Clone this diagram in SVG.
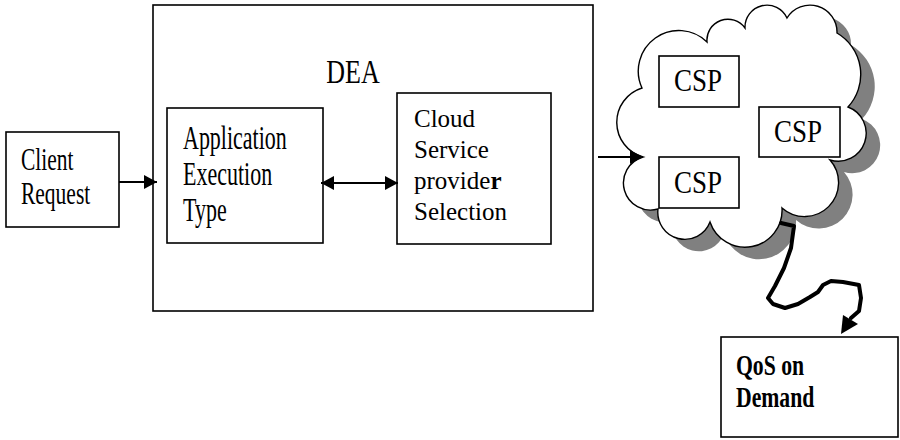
<svg xmlns="http://www.w3.org/2000/svg" width="900" height="440" viewBox="0 0 900 440">
<style>
  .box{fill:#fff;stroke:#000;stroke-width:1.6}
  .t{font-family:"Liberation Serif","Times New Roman",serif;fill:#000}
  .conn{fill:none;stroke:#000;stroke-width:2.2}
</style>
<defs>
  <marker id="ah" viewBox="0 0 13 14" refX="13" refY="7" markerWidth="13" markerHeight="14" markerUnits="userSpaceOnUse" orient="auto-start-reverse">
    <path d="M0,0 L13,7 L0,14 Z" fill="#000"/>
  </marker>
  <path id="cloudShape" d="M642,88 A40.5,40.5 0 0 1 707,42 A21,21 0 0 1 745,28 A22,22 0 0 1 787,18 A27,27 0 0 1 837,33 A48,48 0 0 1 848,107 A28,28 0 0 1 830,160 A34,34 0 0 1 782,208 A37,37 0 0 1 710,222 A27,27 0 0 1 658,209 A27,27 0 0 1 643,157 A36,36 0 0 1 642,88 Z"/>
</defs>
<rect width="900" height="440" fill="#fff"/>

<g id="client">
  <rect class="box" x="6" y="132" width="113" height="95"/>
  <text class="t" font-size="21.5" transform="translate(21 170) scale(1 1.45)">Client</text>
  <text class="t" font-size="21.5" transform="translate(21 204) scale(1 1.45)">Request</text>
</g>

<g id="dea">
  <rect class="box" x="153" y="5" width="440" height="306"/>
  <text class="t" font-size="26" text-anchor="middle" transform="translate(353 83) scale(1 1.28)">DEA</text>
</g>

<g id="app">
  <rect class="box" x="167" y="108" width="156" height="135"/>
  <text class="t" font-size="22" transform="translate(183 149) scale(1 1.5)">Application</text>
  <text class="t" font-size="22" transform="translate(183 185) scale(1 1.5)">Execution</text>
  <text class="t" font-size="22" transform="translate(183 221) scale(1 1.5)">Type</text>
</g>

<g id="csps">
  <rect class="box" x="397" y="93" width="154" height="151"/>
  <text class="t" font-size="25" x="414" y="127">Cloud</text>
  <text class="t" font-size="25" x="414" y="158">Service</text>
  <text class="t" font-size="25" x="414" y="189">provide<tspan font-weight="bold">r</tspan></text>
  <text class="t" font-size="25" x="414" y="220">Selection</text>
</g>

<g id="cloud">
  <use href="#cloudShape" transform="translate(14 12)" fill="#808080"/>
  <use href="#cloudShape" fill="#fff" stroke="#000" stroke-width="1.4"/>
</g>

<g id="csp1">
  <rect class="box" x="659" y="56" width="80" height="51"/>
  <text class="t" font-size="27" transform="translate(674 91) scale(1 1.18)">CSP</text>
</g>
<g id="csp2">
  <rect class="box" x="759" y="107" width="81" height="50"/>
  <text class="t" font-size="27" transform="translate(774 142) scale(1 1.18)">CSP</text>
</g>
<g id="csp3">
  <rect class="box" x="659" y="157" width="80" height="51"/>
  <text class="t" font-size="27" transform="translate(674 193) scale(1 1.18)">CSP</text>
</g>

<g id="qos">
  <rect class="box" x="721" y="337" width="177" height="100"/>
  <text class="t" font-size="21.7" font-weight="bold" transform="translate(736 375) scale(1 1.38)">QoS on</text>
  <text class="t" font-size="21.7" font-weight="bold" transform="translate(736 407) scale(1 1.38)">Demand</text>
</g>

<g id="connectors">
  <line class="conn" x1="119" y1="182" x2="157" y2="182" marker-end="url(#ah)"/>
  <line class="conn" x1="321" y1="183" x2="398" y2="183" marker-start="url(#ah)" marker-end="url(#ah)"/>
  <line class="conn" x1="598" y1="157" x2="643" y2="157" marker-end="url(#ah)"/>
  <path d="M781,223 L794,226 L791,248 L784,268 L775,286 L768,298 L773,304 L785,308 L798,304 L810,297 L818,292 L823,285 L831,281 L843,282 L859,285 L861,298 L859,311 L851,318" fill="none" stroke="#000" stroke-width="4" stroke-linejoin="round" stroke-linecap="round"/>
  <polygon points="841,334 843,315 858,324" fill="#000"/>
</g>
</svg>
